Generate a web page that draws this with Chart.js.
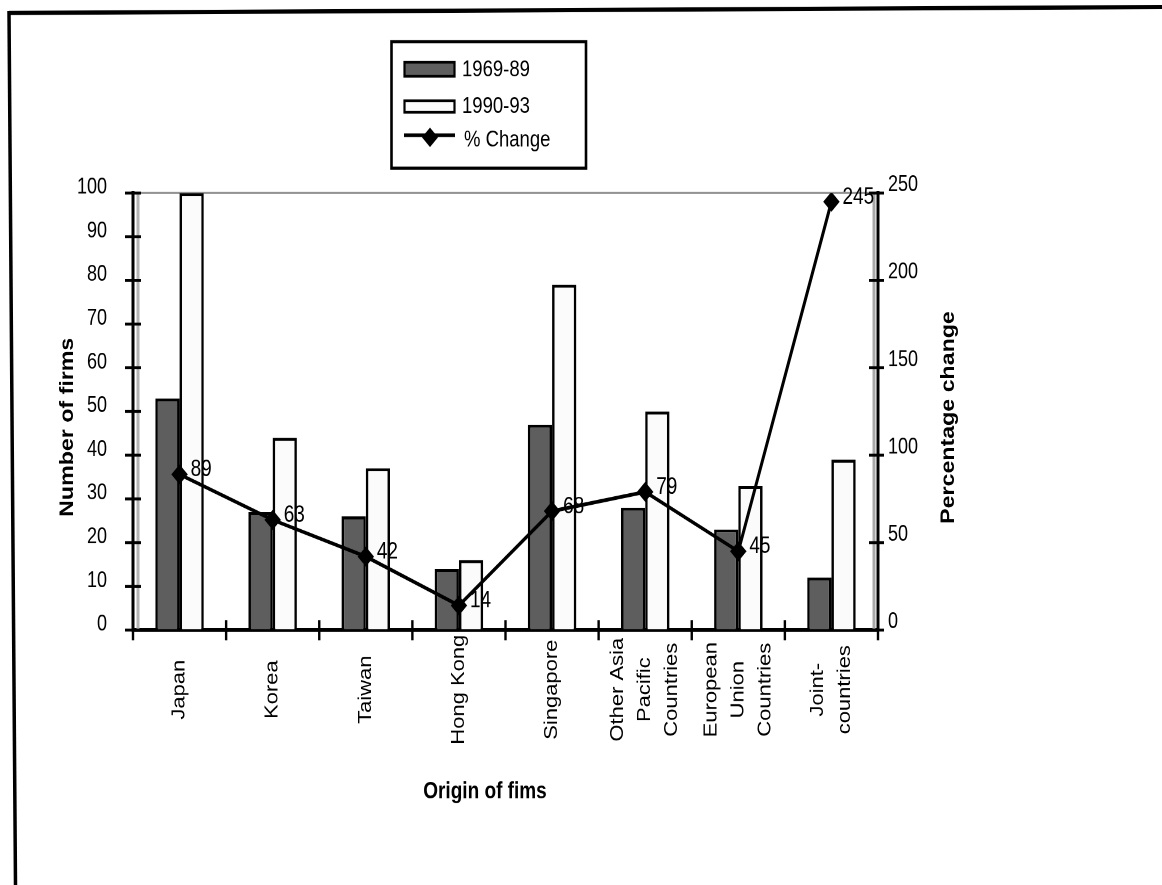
<!DOCTYPE html>
<html>
<head>
<meta charset="utf-8">
<title>Origin of firms</title>
<script src="https://cdn.jsdelivr.net/npm/chart.js@4/dist/chart.umd.min.js"></script>
<style>
  html, body { margin: 0; padding: 0; background: #fff; overflow: hidden; }
</style>
</head>
<body>
<!-- drawn at 1162x725 and shown 1162x885, so type and marks come out tall like the printed original -->
<canvas id="c" width="1162" height="725" style="display:block;width:1162px;height:885px;"></canvas>
<script>
// ---- data ----
const categories = [
  ['Japan'],
  ['Korea'],
  ['Taiwan'],
  ['Hong Kong'],
  ['Singapore'],
  ['Other Asia', 'Pacific', 'Countries'],
  ['European', 'Union', 'Countries'],
  ['Joint-', 'countries']
];
const firms1969to89 = [53, 27, 26, 14, 47, 28, 23, 12];
const firms1990to93 = [100, 44, 37, 16, 79, 50, 33, 39];
const pctChange = [89, 63, 42, 14, 68, 79, 45, 245];

const firmTicks = [0, 10, 20, 30, 40, 50, 60, 70, 80, 90, 100];
const pctTicks = [0, 50, 100, 150, 200, 250];

const seriesNames = ['1969-89', '1990-93', '% Change'];

// ---- styling ----
const FONT = "'Liberation Sans', Arial, Helvetica, sans-serif";
const DARK = '#5e5e5e';
const LIGHT = '#fbfbfb';
const INK = '#000';

Chart.defaults.font.family = FONT;
Chart.defaults.color = INK;

function textAt(ctx, str, x, y, size, bold, rotate, align) {
  ctx.save();
  ctx.font = (bold ? 'bold ' : '') + size + 'px ' + FONT;
  ctx.fillStyle = INK;
  ctx.textAlign = align || 'center';
  ctx.textBaseline = 'middle';
  ctx.translate(x, y);
  if (rotate) ctx.rotate(-Math.PI / 2);
  ctx.fillText(str, 0, 0);
  ctx.restore();
}

function line(ctx, x1, y1, x2, y2, w, color) {
  ctx.save();
  ctx.strokeStyle = color || INK;
  ctx.lineWidth = w;
  ctx.beginPath();
  ctx.moveTo(x1, y1);
  ctx.lineTo(x2, y2);
  ctx.stroke();
  ctx.restore();
}

// Frame, top rule, axis shadows, crossing tick marks, titles, category labels, legend, value labels
const decorations = {
  id: 'decorations',
  beforeDatasetsDraw(chart) {
    const { ctx, chartArea: a, scales: { y } } = chart;
    const yTop = y.getPixelForValue(firmTicks[firmTicks.length - 1]);
    line(ctx, a.left, yTop, a.right, yTop, 1.6, '#8c8c8c');
    line(ctx, a.left + 5, a.top, a.left + 5, a.bottom, 3, '#b4b4b4');
    line(ctx, a.right - 4, a.top, a.right - 4, a.bottom, 3, '#a8a8a8');
  },
  afterDatasetsDraw(chart) {
    const { ctx } = chart;
    const meta = chart.getDatasetMeta(2);
    meta.data.forEach((pt, i) => {
      textAt(ctx, String(chart.data.datasets[2].data[i]), pt.x + 11, pt.y - 3.7, 19, false, false, 'left');
    });
  },
  afterDraw(chart) {
    const { ctx, chartArea: a, scales: { x, y, y2 } } = chart;

    // page frame (top and left edges)
    line(ctx, 9, 10.6, 1162, 5.7, 3.5);
    line(ctx, 9, 9, 15.5, 725, 3.5);

    // tick marks crossing the axes
    firmTicks.forEach(v => {
      const py = y.getPixelForValue(v);
      line(ctx, a.left - 8, py, a.left + 8, py, 2.4);
    });
    pctTicks.forEach(v => {
      const py = y2.getPixelForValue(v);
      line(ctx, a.right - 9, py, a.right + 6, py, 2.4);
    });
    for (let i = 0; i <= categories.length; i++) {
      const px = x.getPixelForValue(i - 0.5);
      line(ctx, px, a.bottom - 8, px, a.bottom + 8.5, 2.4);
    }

    // category labels, turned upright, lines side by side
    const labels = chart.data.labels;
    labels.forEach((lines, i) => {
      const cx = x.getPixelForValue(i);
      const n = lines.length;
      lines.forEach((s, j) => {
        textAt(ctx, s, cx + (j - (n - 1) / 2) * 27, 565, 18, false, true);
      });
    });

    // axis titles
    textAt(ctx, 'Number of firms', 68, 350, 19, true, true);
    textAt(ctx, 'Percentage change', 949, 342, 19, true, true);
    textAt(ctx, 'Origin of fims', 485, 649, 19, true, false);

    // legend
    const ds = chart.data.datasets;
    ctx.save();
    ctx.strokeStyle = INK;
    ctx.lineWidth = 2.6;
    ctx.strokeRect(391.5, 34.2, 194.5, 103.5);
    ctx.fillStyle = ds[0].backgroundColor;
    ctx.fillRect(404.5, 51, 50, 11.5);
    ctx.lineWidth = 2.2;
    ctx.strokeRect(404.5, 51, 50, 11.5);
    ctx.fillStyle = ds[1].backgroundColor;
    ctx.fillRect(404.5, 82.5, 50, 9.5);
    ctx.strokeRect(404.5, 82.5, 50, 9.5);
    ctx.restore();
    line(ctx, 404, 110.7, 455, 110.7, 3);
    ctx.save();
    ctx.fillStyle = INK;
    ctx.beginPath();
    ctx.moveTo(430 - 8, 112.5);
    ctx.lineTo(430, 112.5 - 8);
    ctx.lineTo(430 + 8, 112.5);
    ctx.lineTo(430, 112.5 + 8);
    ctx.closePath();
    ctx.fill();
    ctx.restore();
    textAt(ctx, ds[0].label, 462, 57.4, 18.5, false, false, 'left');
    textAt(ctx, ds[1].label, 462, 87.4, 18.5, false, false, 'left');
    textAt(ctx, ds[2].label, 464, 114.8, 18.5, false, false, 'left');
  }
};

const canvas = document.getElementById('c');
new Chart(canvas, {
  type: 'bar',
  data: {
    labels: categories,
    datasets: [
      {
        label: seriesNames[0],
        data: firms1969to89,
        backgroundColor: DARK,
        borderColor: INK,
        borderWidth: 2.5,
        categoryPercentage: 0.52,
        barPercentage: 1.0,
        yAxisID: 'y',
        order: 2
      },
      {
        label: seriesNames[1],
        data: firms1990to93,
        backgroundColor: LIGHT,
        borderColor: INK,
        borderWidth: 2.5,
        categoryPercentage: 0.52,
        barPercentage: 1.0,
        yAxisID: 'y',
        order: 2
      },
      {
        type: 'line',
        label: seriesNames[2],
        data: pctChange,
        borderColor: INK,
        borderWidth: 3,
        tension: 0,
        pointStyle: 'rectRot',
        pointRadius: 7.5,
        pointBackgroundColor: INK,
        pointBorderColor: INK,
        pointBorderWidth: 1,
        yAxisID: 'y2',
        order: 0
      }
    ]
  },
  options: {
    responsive: false,
    devicePixelRatio: 2,
    animation: false,
    layout: { padding: { left: 20, right: 0, top: 158.1, bottom: 0 } },
    plugins: {
      legend: { display: false },
      tooltip: { enabled: false }
    },
    scales: {
      x: {
        offset: true,
        grid: { display: true, color: 'rgba(0,0,0,0)', drawTicks: false },
        border: { display: true, color: INK, width: 3 },
        ticks: { display: false },
        afterFit(scale) { scale.height = 208.9; }
      },
      y: {
        position: 'left',
        min: 0,
        max: 100,
        afterBuildTicks(scale) { scale.ticks = firmTicks.map(v => ({ value: v })); },
        grid: { drawOnChartArea: false, drawTicks: false },
        border: { display: true, color: INK, width: 3 },
        ticks: { padding: 26, labelOffset: -4.5, font: { size: 18 }, color: INK },
        afterFit(scale) { scale.width = 113; }
      },
      y2: {
        position: 'right',
        min: 0,
        max: 250,
        afterBuildTicks(scale) { scale.ticks = pctTicks.map(v => ({ value: v })); },
        grid: { drawOnChartArea: false, drawTicks: false },
        border: { display: true, color: INK, width: 3 },
        ticks: { padding: 10, labelOffset: -6.5, font: { size: 18 }, color: INK },
        afterFit(scale) { scale.width = 284; }
      }
    }
  },
  plugins: [decorations]
});
// keep the tall display size
canvas.style.width = '1162px';
canvas.style.height = '885px';
</script>
</body>
</html>
